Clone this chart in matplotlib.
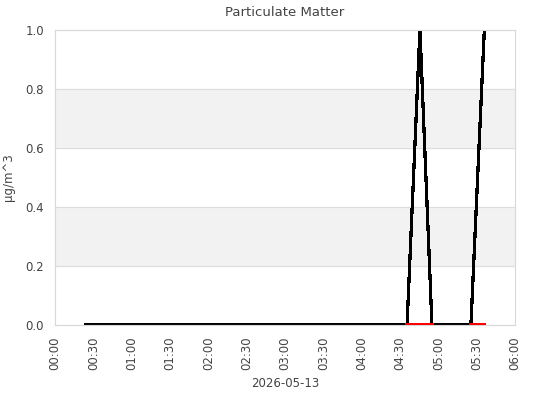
import numpy as np
import matplotlib.pyplot as plt
import pandas as pd

day = pd.Timestamp('2026-05-13')

# minutes after midnight, values in ug/m^3
pm_minutes = [24, 275.5, 285.6, 295, 325.5, 336]
pm_values = [0.0, 0.0, 1.0, 0.0, 0.0, 1.0]

low_minutes = [275.5, 295, 295.1, 325.5, 336]
low_values = [0.0, 0.0, np.nan, 0.0, 0.0]

tick_labels = ['00:00', '00:30', '01:00', '01:30', '02:00', '02:30',
               '03:00', '03:30', '04:00', '04:30', '05:00', '05:30', '06:00']

to_time = lambda m: day + pd.to_timedelta(m, unit='min')

txt = '#444444'
fig = plt.figure(figsize=(5.4, 4), dpi=100)
ax = fig.add_axes([0.1019, 0.1875, 0.8518, 0.7375])

ax.plot(to_time(pm_minutes), pm_values, color='black', lw=1.6, antialiased=False)
ax.plot(to_time(low_minutes), low_values, color='red', lw=1.6, antialiased=False,
        zorder=3)

ax.set_ylim(0, 1)
ax.set_xlim(day, day + pd.Timedelta(hours=6))
for lo in (0.2, 0.6):
    ax.axhspan(lo, lo + 0.2, color='#f2f2f2', zorder=0)
ax.set_yticks([0, 0.2, 0.4, 0.6, 0.8, 1.0])
ax.yaxis.grid(True, color='#dddddd', lw=0.8, zorder=0)
ax.set_axisbelow(True)

ticks = [day + pd.Timedelta(minutes=30 * i) for i in range(len(tick_labels))]
ax.set_xticks(ticks)
ax.set_xticklabels(tick_labels, rotation=90)
ax.tick_params(length=0, colors=txt, labelsize=8.5, pad=8)
for s in ax.spines.values():
    s.set_color('#d8d8d8')

ax.set_title('Particulate Matter', color=txt, fontsize=9.5, pad=10)
ax.set_xlabel('2026-05-13', color=txt, fontsize=8.5)
ax.xaxis.set_label_coords(0.5, -0.175)
ax.set_ylabel('µg/m^3', color=txt, fontsize=8.5)
ax.yaxis.set_label_coords(-0.088, 0.5)

fig.savefig('out.png', dpi=100)
